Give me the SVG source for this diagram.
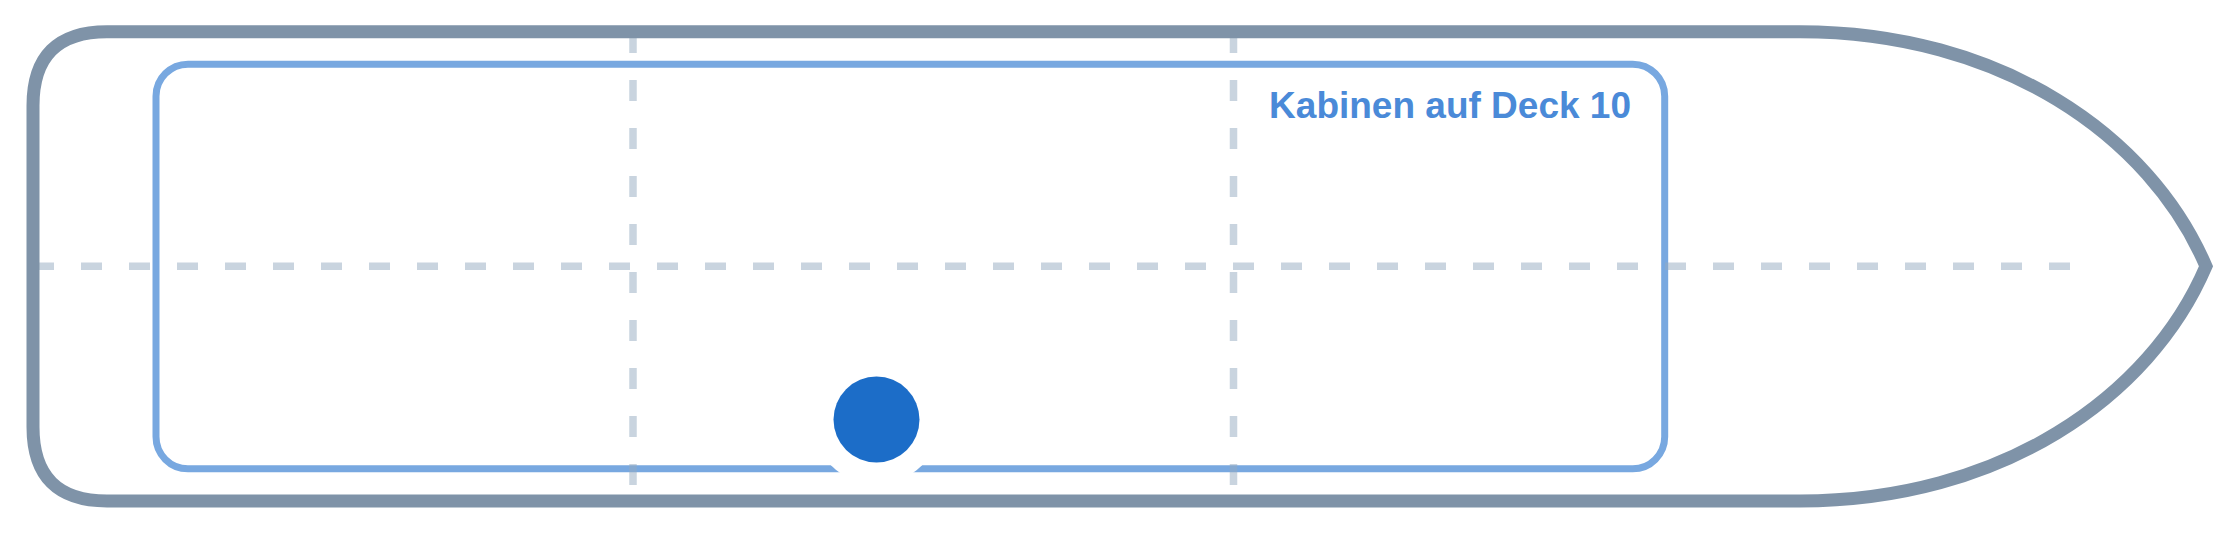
<svg xmlns="http://www.w3.org/2000/svg" width="2240" height="533" viewBox="0 0 2240 533">
  <style>
    .hull { fill: none; stroke: #7f93a8; stroke-width: 13; stroke-linejoin: miter; stroke-miterlimit: 10; }
    .cabin { fill: none; stroke: #78a8e0; stroke-width: 7; }
    .guide { fill: none; stroke: #94aac0; stroke-opacity: 0.5; stroke-width: 7.5; stroke-dasharray: 21 27; }
    .label { font-family: "Liberation Sans", Arial, Helvetica, sans-serif; font-weight: bold; font-size: 37px; fill: #4a8ad8; }
  </style>
  <rect width="2240" height="533" fill="#ffffff"/>
  <g id="cabin">
    <rect class="cabin" x="156" y="64.2" width="1508.7" height="404.6" rx="32" ry="32"/>
  </g>
  <g id="guides">
    <line class="guide" x1="33" y1="266.3" x2="2080" y2="266.3"/>
    <line class="guide" x1="633" y1="32" x2="633" y2="500"/>
    <line class="guide" x1="1233.5" y1="32" x2="1233.5" y2="500"/>
  </g>
  <g id="hull">
    <path class="hull" d="M 107 31.7 L 1800 31.7 C 2000 31.7 2150 135 2206 266.3 C 2150 397.6 2000 501 1800 501 L 107 501 Q 33 501 33 427 L 33 105.7 Q 33 31.7 107 31.7 Z"/>
  </g>
  <g id="position-marker">
    <circle cx="876.5" cy="419.6" r="64.5" fill="#ffffff"/>
    <circle cx="876.5" cy="419.6" r="43" fill="#1c6dc8"/>
  </g>
  <g id="cabin-label">
    <text class="label" x="1631" y="117.7" text-anchor="end">Kabinen auf Deck 10</text>
  </g>
</svg>
